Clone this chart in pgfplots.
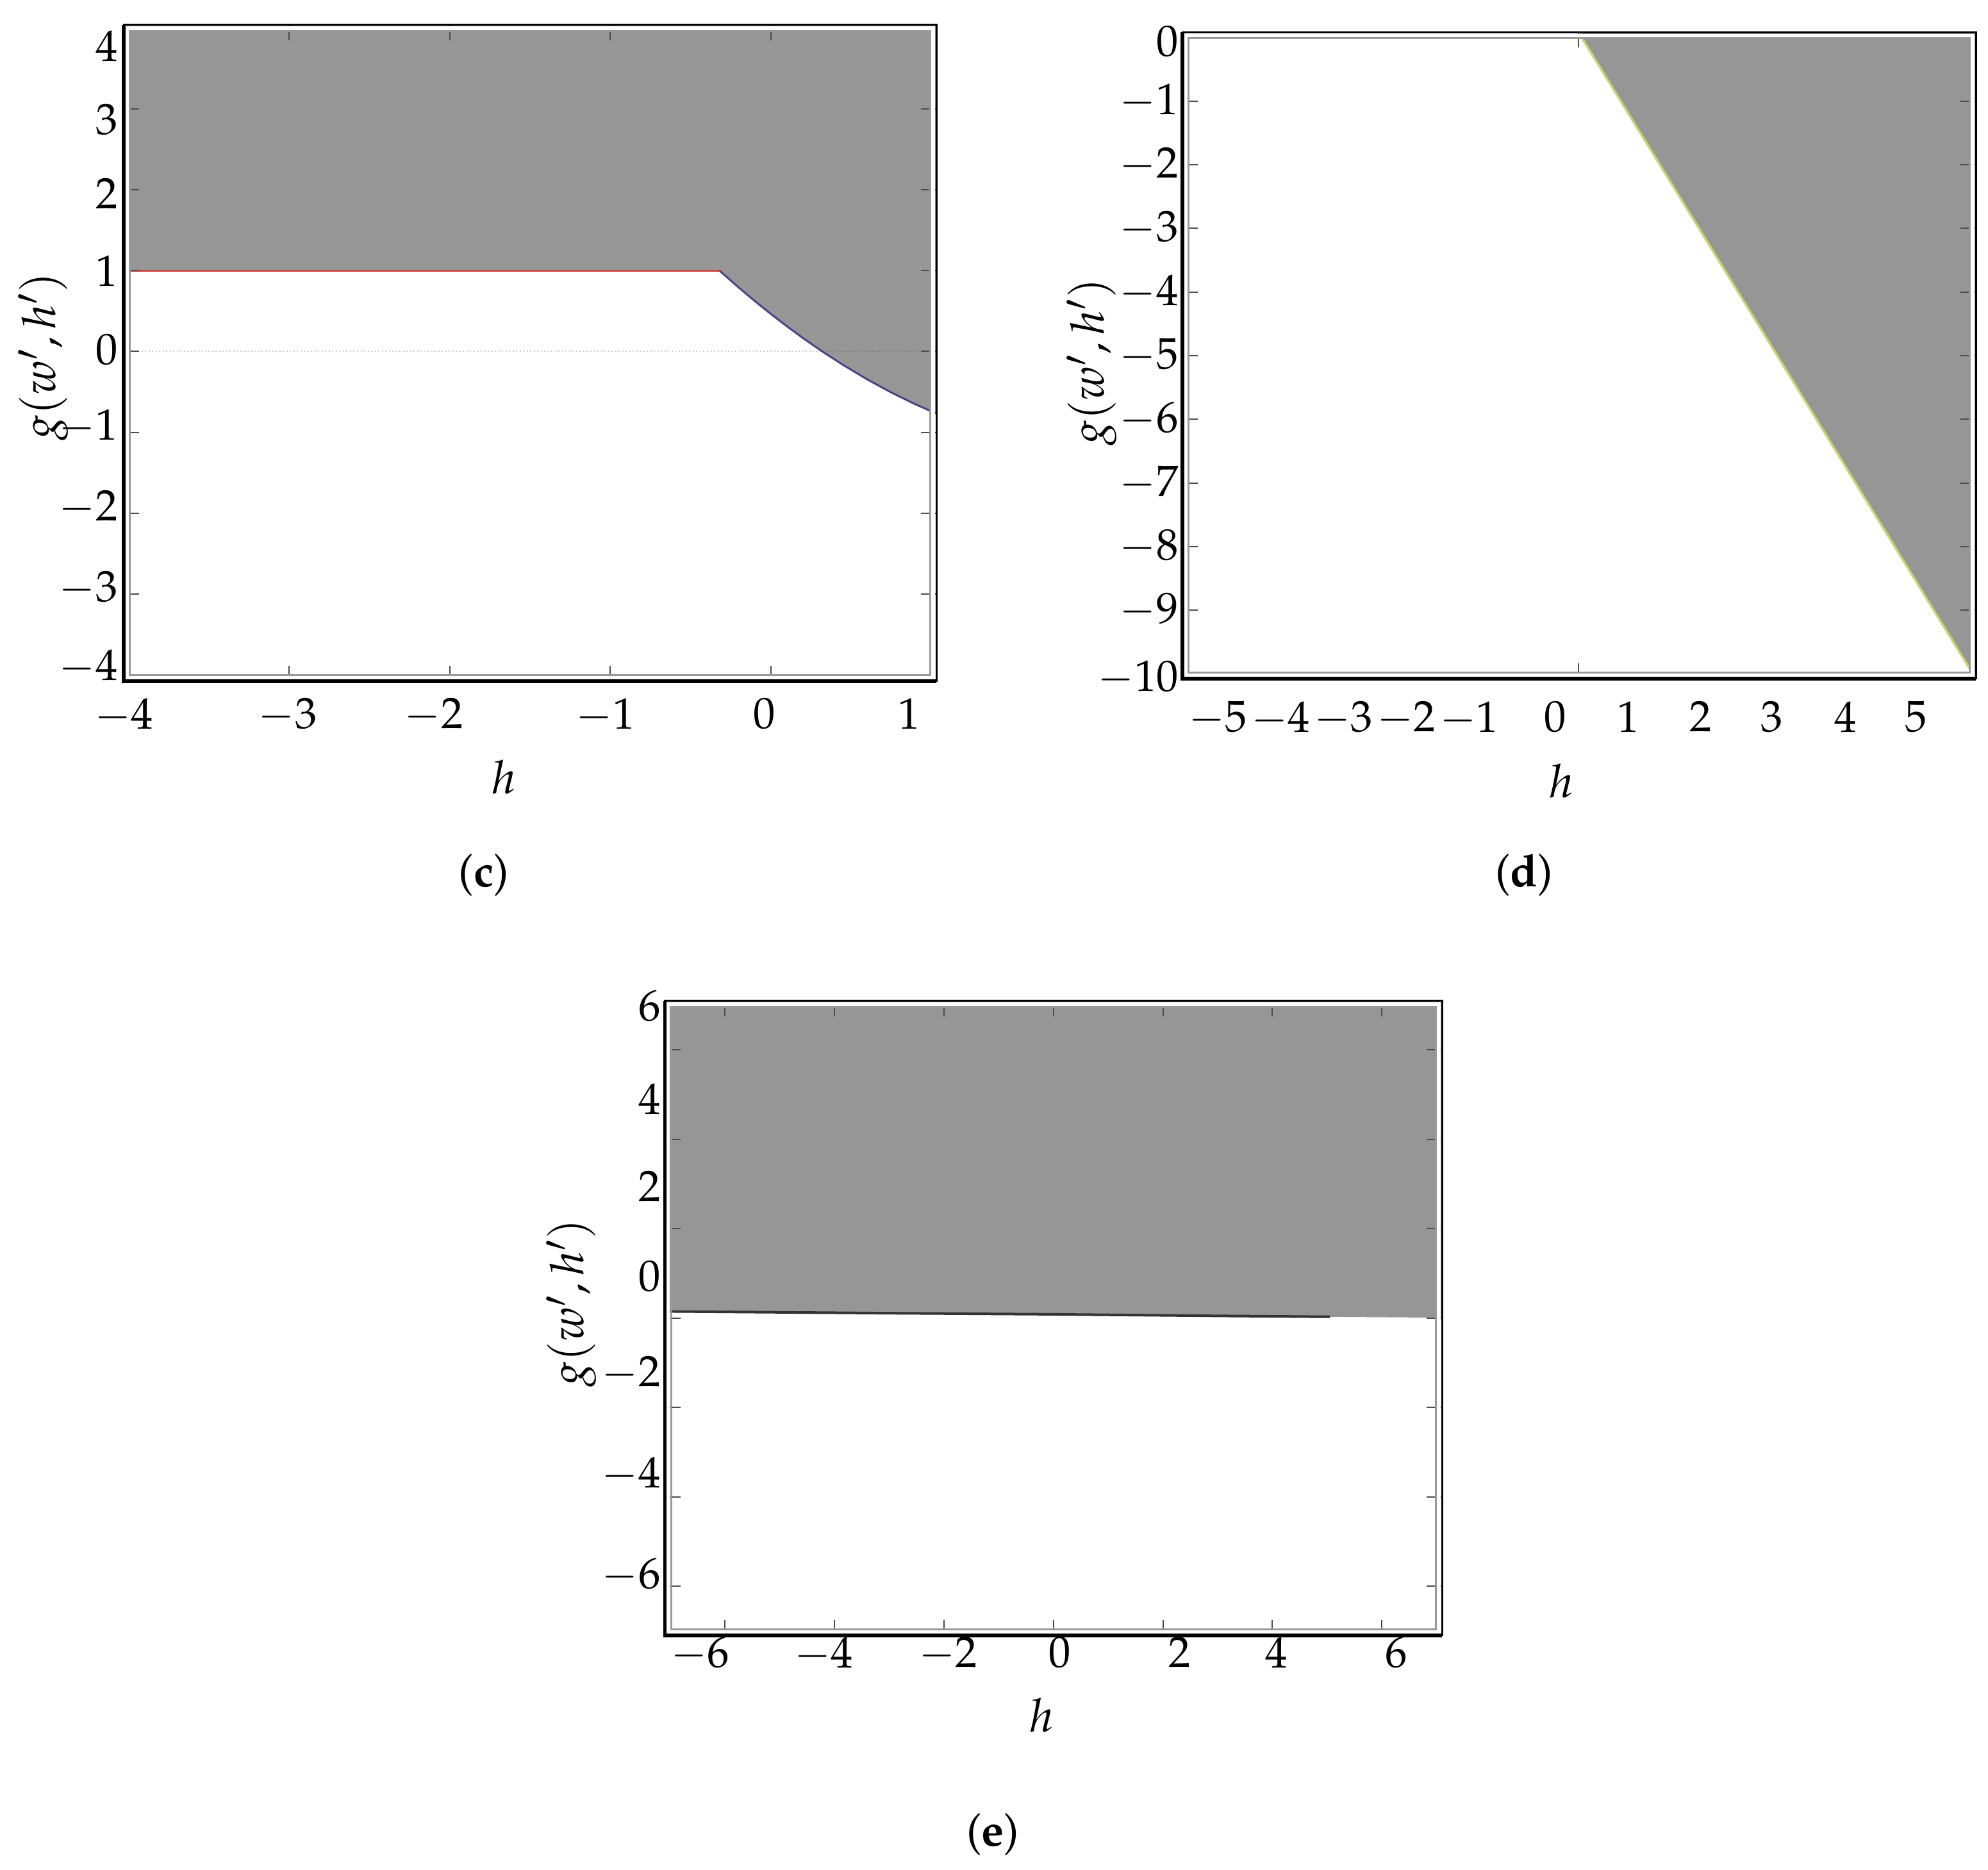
\documentclass[border=0pt]{standalone}
\usepackage[T1]{fontenc}
\usepackage{mathpazo}
\usepackage{pgfplots}
\pgfplotsset{compat=1.18}
\definecolor{fillgray}{RGB}{150,150,150}
\definecolor{redline}{RGB}{200,70,70}
\definecolor{blueline}{RGB}{70,70,135}
\definecolor{yelline}{RGB}{200,212,110}
\pgfplotsset{
  frame/.style={
    after end axis/.append code={
      \draw[white, line width=0.055cm] ([shift={(0.052cm,0.052cm)}]rel axis cs:0,0) rectangle ([shift={(-0.052cm,-0.052cm)}]rel axis cs:1,1);
      \draw[black!40, line width=0.03cm] ([shift={(0.095cm,0.095cm)}]rel axis cs:0,0) rectangle ([shift={(-0.095cm,-0.095cm)}]rel axis cs:1,1);
      \draw[black, line width=0.03cm] (rel axis cs:0,0) rectangle (rel axis cs:1,1);
      \draw[black, line width=0.055cm] (rel axis cs:0,1) -- (rel axis cs:0,0) -- (rel axis cs:1,0);
    }
  },
  common/.style={
    scale only axis,
    axis on top,
    axis line style={draw=none},
    major tick length=0pt,
    minor tick length=0.24cm,
    tick align=inside,
    minor tick style={black!70, line width=0.02cm},
    tick label style={font=\fontsize{19.5}{23}\selectfont},
    label style={font=\fontsize{20.5}{24}\selectfont},
    frame,
  }
}
\begin{document}
\begin{tikzpicture}
\useasboundingbox (0,0) rectangle (31.02,29.18);

% ---------- panel (c) ----------
\begin{axis}[common,
  at={(1.93cm,18.55cm)}, anchor=south west,
  width=12.68cm, height=10.24cm,
  xmin=-4.03, xmax=1.03, ymin=-4.08, ymax=4.04,
  xtick={-4.03,-3.01,-2.1,-1.03,-0.04,0.86},
  xticklabels={$-4$,$-3$,$-2$,$-1$,$0$,$1$},
  ytick={-3.9,-2.93,-1.93,-0.93,0.02,1,1.95,2.87,3.78},
  yticklabels={$-4$,$-3$,$-2$,$-1$,$0$,$1$,$2$,$3$,$4$},
  minor xtick={-3,-2,-1,0},
  minor ytick={-3,-2,-1,0,1,2,3},
  xticklabel shift=0.14cm, yticklabel shift=-0.03cm,
  xlabel={$h$}, ylabel={$g(w',h')$},
  xlabel style={at={(axis description cs:0.468,-0.146)},anchor=center},
  ylabel style={at={(axis description cs:-0.0986,0.495)},anchor=center},
]
\addplot[fill=fillgray, draw=none] coordinates {
 (-4.03,1) (-0.32,1) (-0.2,0.790) (-0.1,0.623) (0,0.464) (0.1,0.311) (0.2,0.165)
 (0.32,0.0) (0.45,-0.167) (0.6,-0.346) (0.75,-0.508) (0.9,-0.654) (1.03,-0.767)
 (1.03,4.04) (-4.03,4.04)} -- cycle;
\addplot[black!20, densely dotted, line width=0.02cm] coordinates {(-4.03,0) (0.32,0)};
\addplot[black!50, densely dotted, line width=0.02cm] coordinates {(0.32,0) (1.03,0)};
\addplot[redline, line width=0.03cm] coordinates {(-4.03,1) (-0.32,1)};
\addplot[blueline, line width=0.03cm] coordinates {
 (-0.32,1) (-0.2,0.790) (-0.1,0.623) (0,0.464) (0.1,0.311) (0.2,0.165)
 (0.32,0.0) (0.45,-0.167) (0.6,-0.346) (0.75,-0.508) (0.9,-0.654) (1.03,-0.767)};
\end{axis}

% ---------- panel (d) ----------
\begin{axis}[common,
  at={(18.45cm,18.59cm)}, anchor=south west,
  width=12.38cm, height=10.085cm,
  xmin=-5.173, xmax=5.831, ymin=-10.075, ymax=0.08,
  xtick={-4.68,-3.81,-2.94,-2.07,-1.20,0,1.01,2.01,3.0,4.02,5.0},
  xticklabels={$-5$,$-4$,$-3$,$-2$,$-1$,$0$,$1$,$2$,$3$,$4$,$5$},
  ytick={-10.06,-9,-8,-7,-6,-5,-4,-3,-2,-1,-0.06},
  yticklabels={$-10$,$-9$,$-8$,$-7$,$-6$,$-5$,$-4$,$-3$,$-2$,$-1$,$0$},
  minor xtick={0.32},
  minor ytick={-9,-8,-7,-6,-5,-4,-3,-2,-1},
  xticklabel shift=0.23cm, yticklabel shift=-0.06cm,
  xlabel={$h$}, ylabel={$g(w',h')$},
  xlabel style={at={(axis description cs:0.478,-0.158)},anchor=center},
  ylabel style={at={(axis description cs:-0.114,0.49)},anchor=center},
]
\addplot[fill=fillgray, draw=none] coordinates {(0.32,0.08) (5.831,-10.075) (5.831,0.08)} -- cycle;
\addplot[yelline, line width=0.035cm] coordinates {(0.32,0.08) (5.831,-10.075)};
\end{axis}

% ---------- panel (e) ----------
\begin{axis}[common,
  at={(10.375cm,3.66cm)}, anchor=south west,
  width=12.125cm, height=9.903cm,
  xmin=-7.1, xmax=7.1, ymin=-7.1, ymax=7.1,
  xtick={-6.46,-4.20,-1.93,0.12,2.31,4.07,6.26},
  xticklabels={$-6$,$-4$,$-2$,$0$,$2$,$4$,$6$},
  ytick={-5.75,-3.50,-1.23,0.94,2.95,4.91,6.98},
  yticklabels={$-6$,$-4$,$-2$,$0$,$2$,$4$,$6$},
  minor xtick={-6,-4,-2,0,2,4,6},
  minor ytick={-6,-4,-2,0,2,4,6},
  xticklabel shift=-0.10cm, yticklabel shift=-0.055cm,
  xlabel={$h$}, ylabel={$g(w',h')$},
  xlabel style={at={(axis description cs:0.4845,-0.126)},anchor=center},
  ylabel style={at={(axis description cs:-0.12,0.524)},anchor=center},
]
\addplot[fill=fillgray, draw=none] coordinates {(-7.1,0.14) (7.1,0.01) (7.1,7.1) (-7.1,7.1)} -- cycle;
\addplot[black!80, line width=0.04cm] coordinates {(-7.1,0.15) (-3,0.11) (0,0.085) (3,0.05) (5.05,0.03)};
\end{axis}

\node[font=\fontsize{20}{24}\selectfont] at (7.55,15.53) {(\textbf{c})};
\node[font=\fontsize{20}{24}\selectfont] at (23.78,15.53) {(\textbf{d})};
\node[font=\fontsize{20}{24}\selectfont] at (15.49,0.56) {(\textbf{e})};
\end{tikzpicture}
\end{document}
